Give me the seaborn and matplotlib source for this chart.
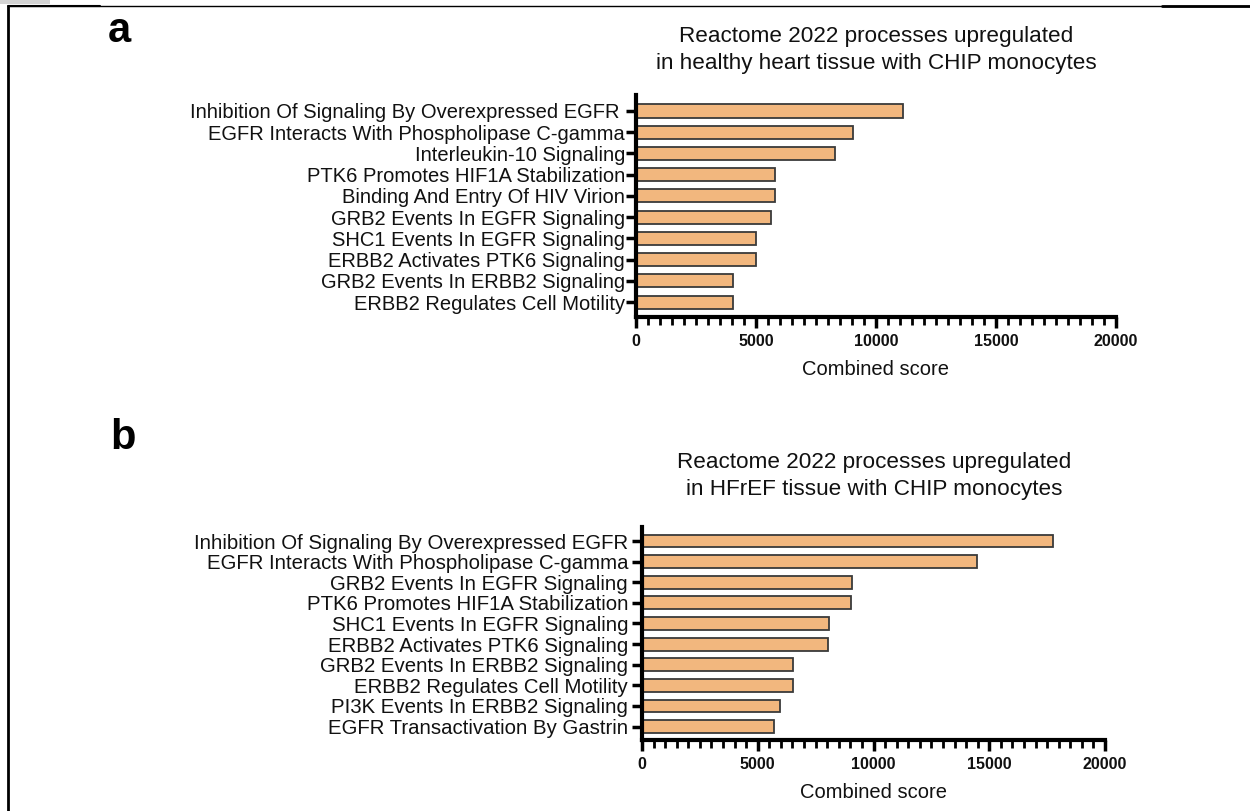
import matplotlib
matplotlib.use("Agg")
import matplotlib.pyplot as plt
from matplotlib.lines import Line2D
from matplotlib.patches import Rectangle
from matplotlib.ticker import MultipleLocator
import seaborn as sns
import pandas as pd

# ---- data ----
terms_a = [
    "Inhibition Of Signaling By Overexpressed EGFR ",
    "EGFR Interacts With Phospholipase C-gamma",
    "Interleukin-10 Signaling",
    "PTK6 Promotes HIF1A Stabilization",
    "Binding And Entry Of HIV Virion",
    "GRB2 Events In EGFR Signaling",
    "SHC1 Events In EGFR Signaling",
    "ERBB2 Activates PTK6 Signaling",
    "GRB2 Events In ERBB2 Signaling",
    "ERBB2 Regulates Cell Motility",
]
scores_a = [11130, 9060, 8280, 5790, 5790, 5640, 5010, 5010, 4060, 4060]

terms_b = [
    "Inhibition Of Signaling By Overexpressed EGFR",
    "EGFR Interacts With Phospholipase C-gamma",
    "GRB2 Events In EGFR Signaling",
    "PTK6 Promotes HIF1A Stabilization",
    "SHC1 Events In EGFR Signaling",
    "ERBB2 Activates PTK6 Signaling",
    "GRB2 Events In ERBB2 Signaling",
    "ERBB2 Regulates Cell Motility",
    "PI3K Events In ERBB2 Signaling",
    "EGFR Transactivation By Gastrin",
]
scores_b = [17770, 14450, 9060, 9010, 8060, 8040, 6510, 6510, 5950, 5690]

title_a = ["Reactome 2022 processes upregulated",
           "in healthy heart tissue with CHIP monocytes"]
title_b = ["Reactome 2022 processes upregulated",
           "in HFrEF tissue with CHIP monocytes"]
xlabel = "Combined score"
xticks = [0, 5000, 10000, 15000, 20000]

sns.set_theme(style="white")
plt.rcParams['font.family'] = ['Liberation Sans', 'DejaVu Sans']

W, H = 1250, 811
fig = plt.figure(figsize=(W / 100, H / 100), dpi=100)

BAR = "#F2B77E"
EDGE = "#3a3a3a"


def fx(px):
    return px / W


def fy(py):
    return 1 - py / H


def panel(rect, terms, scores, ylim, labelsize, ypad):
    ax = fig.add_axes(rect)
    df = pd.DataFrame({"term": terms, "score": scores})
    sns.barplot(data=df, x="score", y="term", orient="h", color=BAR,
                saturation=1, width=0.62, edgecolor=EDGE, linewidth=1.3, ax=ax)
    ax.set_xlim(0, 20000)
    ax.set_ylim(*ylim)
    ax.set_xticks(xticks)
    ax.set_xticklabels([str(t) for t in xticks], fontsize=11.5, fontweight="bold")
    ax.xaxis.set_minor_locator(MultipleLocator(500))
    ax.tick_params(axis="x", which="major", direction="out", length=8, width=2.5,
                   color="black", pad=4, bottom=True, labelcolor="#111111")
    ax.tick_params(axis="x", which="minor", direction="out", length=6, width=2.0,
                   color="black", bottom=True)
    ax.tick_params(axis="y", which="major", direction="out", length=7, width=2.5,
                   color="black", pad=ypad, left=True, labelsize=labelsize,
                   labelcolor="#111111")
    ax.set_xlabel(xlabel, fontsize=14.5, labelpad=8, color="#111111")
    ax.set_ylabel("")
    for s in ["top", "right"]:
        ax.spines[s].set_visible(False)
    for s in ["left", "bottom"]:
        ax.spines[s].set_linewidth(3)
        ax.spines[s].set_color("black")
    ax.set_facecolor("white")
    return ax


ax_a = panel([fx(636), fy(317), fx(1116) - fx(636), fy(95) - fy(317)],
             terms_a, scores_a, (9.7, -0.75), 14.5, 1)
ax_b = panel([fx(642), fy(740), fx(1105) - fx(642), fy(527) - fy(740)],
             terms_b, scores_b, (9.65, -0.68), 14.7, 3)

for line, yb in zip(title_a, [42, 69]):
    fig.text(fx(876), fy(yb), line, ha="center", va="baseline", fontsize=16.2,
             color="#111111")
for line, yb in zip(title_b, [468, 495]):
    fig.text(fx(874), fy(yb), line, ha="center", va="baseline", fontsize=16.2,
             color="#111111")

fig.text(fx(108), fy(42), "a", fontsize=30, fontweight="bold", ha="left",
         va="baseline", color="black")
fig.text(fx(110), fy(449), "b", fontsize=30, fontweight="bold", ha="left",
         va="baseline", color="black")

# page frame
fig.add_artist(Line2D([fx(8), fx(8)], [fy(6), 0], transform=fig.transFigure,
                      color="black", linewidth=2))
fig.add_artist(Line2D([fx(8), fx(1250)], [fy(6), fy(6)], transform=fig.transFigure,
                      color="black", linewidth=1))
fig.add_artist(Line2D([fx(8), fx(100)], [fy(6), fy(6)], transform=fig.transFigure,
                      color="black", linewidth=1.5))
fig.add_artist(Line2D([fx(1162), fx(1250)], [fy(6), fy(6)], transform=fig.transFigure,
                      color="black", linewidth=2))
fig.add_artist(Rectangle((0, fy(4)), fx(50), 4 / H, transform=fig.transFigure,
                         facecolor="#d4d4d4", edgecolor="none"))

fig.savefig("out.png", dpi=100, facecolor="white")
